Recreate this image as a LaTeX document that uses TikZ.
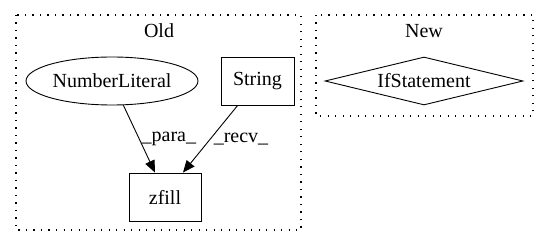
\documentclass[tikz,border=0pt]{standalone}
\usepackage{fontspec}
\setmainfont{Liberation Serif}
\usetikzlibrary{arrows.meta,shapes.geometric}
\begin{document}
\begin{tikzpicture}[x=1pt,y=-1pt,
  every node/.style={font=\fontsize{20}{22}\selectfont, inner sep=0pt},
  cluster/.style={draw, line width=1.1pt, dash pattern=on 1.3pt off 6.2pt},
  boxnode/.style={draw, line width=0.9pt, minimum width=72pt, minimum height=48pt},
  ellnode/.style={draw, ellipse, line width=0.9pt, minimum width=172pt, minimum height=48pt},
  dianode/.style={draw, diamond, aspect=4.1, line width=0.9pt, minimum width=198pt, minimum height=48pt, inner sep=0pt},
  edge/.style={draw, line width=0.9pt, -{Triangle[length=12pt,width=10pt]}},
  lbl/.style={font=\fontsize{20}{22}\selectfont}]
\useasboundingbox (0,0) rectangle (549,248);
% clusters
\draw[cluster] (16,15) rectangle (301,230);
\draw[cluster] (316,15) rectangle (533,116);
\node at (159,31) {Old};
\node at (424,31) {New};
% nodes
\node[ellnode] (num) at (112,81) {NumberLiteral};
\node[boxnode, minimum width=73pt] (str) at (257.5,81) {String};
\node[boxnode] (zf) at (165,197) {zfill};
\node[dianode] (ifs) at (424,81) {IfStatement};
% edges
\draw[edge] (num) -- (zf.north -| 155,0) node[midway, right=2pt, lbl] {\_para\_};
\draw[edge] (str) -- (zf.north -| 183,0) node[midway, right=3pt, lbl] {\_recv\_};
\end{tikzpicture}
\end{document}
